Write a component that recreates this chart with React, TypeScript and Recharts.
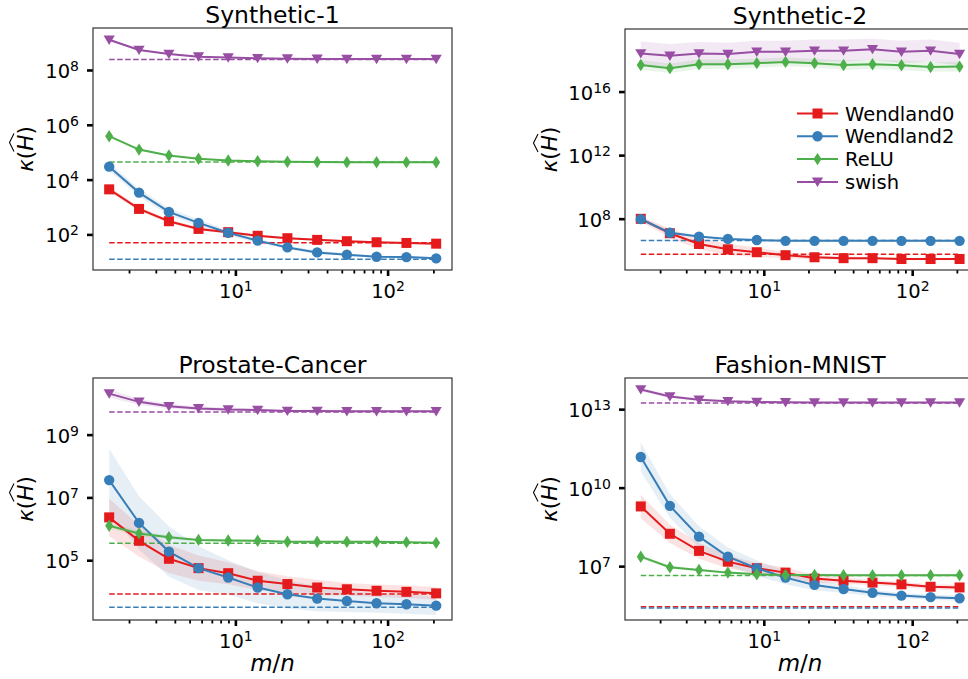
import React from "react";
import { ComposedChart, Line, Area, XAxis, YAxis } from "recharts";

const FONT = "'DejaVu Sans', sans-serif";

// m/n values shared by every panel
const ratios = [1.47, 2.31, 3.63, 5.68, 8.9, 13.9, 21.8, 34.2, 53.6, 84, 132, 207];
const xTicks = [2, 3, 4, 5, 6, 7, 8, 9, 10, 20, 30, 40, 50, 60, 70, 80, 90, 100, 200];
const xDomain = [1.151, 263];

// Synthetic-1
const syn1W0 = [4.6e3, 890, 316, 166, 126, 93, 76, 66, 59, 54, 51, 48];
const syn1W2 = [3.1e4, 3.5e3, 690, 275, 120, 62, 35, 23, 19, 16, 15.5, 14];
const syn1Relu = [4.0e5, 1.3e5, 7.9e4, 6.0e4, 5.2e4, 4.9e4, 4.7e4, 4.6e4, 4.5e4, 4.5e4, 4.5e4, 4.5e4];
const syn1Swish = [1.32e9, 5.6e8, 4.0e8, 3.2e8, 2.95e8, 2.8e8, 2.7e8, 2.65e8, 2.6e8, 2.6e8, 2.6e8, 2.6e8];
const syn1Base = { w0: 52, w2: 13, relu: 4.6e4, swish: 2.5e8 };
const syn1Spread = {
  w0: [0.1, 0.08, 0.07, 0.06, 0.05, 0.05, 0.04, 0.04, 0.04, 0.03, 0.03, 0.03],
  w2: [0.15, 0.14, 0.13, 0.12, 0.1, 0.08, 0.07, 0.06, 0.05, 0.04, 0.04, 0.03],
  relu: [0.05, 0.04, 0.03, 0.03, 0.03, 0.03, 0.02, 0.02, 0.02, 0.02, 0.02, 0.02],
  swish: [0.05, 0.04, 0.03, 0.03, 0.02, 0.02, 0.02, 0.02, 0.02, 0.02, 0.02, 0.02],
};

// Synthetic-2
const syn2W0 = [1.05e8, 1.3e7, 2.75e6, 1.26e6, 8.3e5, 5.4e5, 4.0e5, 3.5e5, 3.5e5, 3.1e5, 3.1e5, 3.1e5];
const syn2W2 = [1.0e8, 1.4e7, 8.0e6, 5.7e6, 4.9e6, 4.3e6, 4.3e6, 4.3e6, 4.3e6, 4.3e6, 4.3e6, 4.3e6];
const syn2Relu = [5.1e17, 3.2e17, 5.6e17, 5.6e17, 6.6e17, 7.9e17, 6.6e17, 5.1e17, 5.6e17, 4.9e17, 3.8e17, 4.0e17];
const syn2Swish = [2.7e18, 1.9e18, 2.7e18, 2.45e18, 3.4e18, 3.4e18, 4.0e18, 4.0e18, 5.0e18, 3.4e18, 4.0e18, 2.45e18];
const syn2Base = { w0: 6.2e5, w2: 4.5e6 };
const syn2Spread = {
  w0: [0.15, 0.3, 0.35, 0.35, 0.3, 0.2, 0.12, 0.1, 0.08, 0.08, 0.08, 0.08],
  w2: [0.15, 0.1, 0.06, 0.05, 0.04, 0.03, 0.03, 0.03, 0.03, 0.03, 0.03, 0.03],
  relu: [0.3, 0.3, 0.3, 0.3, 0.28, 0.28, 0.28, 0.3, 0.3, 0.3, 0.3, 0.3],
  swish: [0.75, 0.75, 0.72, 0.72, 0.7, 0.7, 0.7, 0.7, 0.65, 0.7, 0.7, 0.72],
};

// Prostate-Cancer
const prosW0 = [2.4e6, 4.3e5, 1.15e5, 5.8e4, 4.0e4, 2.3e4, 1.8e4, 1.4e4, 1.23e4, 1.1e4, 1.02e4, 9.1e3];
const prosW2 = [3.7e7, 1.6e6, 1.95e5, 5.8e4, 2.9e4, 1.4e4, 8.5e3, 6.2e3, 5.2e3, 4.4e3, 4.1e3, 3.7e3];
const prosRelu = [1.3e6, 7.4e5, 5.6e5, 4.6e5, 4.4e5, 4.3e5, 4.0e5, 4.0e5, 4.0e5, 4.0e5, 3.9e5, 3.7e5];
const prosSwish = [2.1e10, 1.15e10, 8.3e9, 7.1e9, 6.5e9, 6.3e9, 5.9e9, 5.9e9, 5.75e9, 5.75e9, 5.75e9, 5.75e9];
const prosBase = { w0: 8.7e3, w2: 3.3e3, relu: 3.6e5, swish: 5.5e9 };
const prosSpread = {
  w0: [0.6, 0.5, 0.45, 0.4, 0.35, 0.3, 0.25, 0.25, 0.2, 0.2, 0.2, 0.2],
  w2: [1.0, 0.85, 0.8, 0.7, 0.55, 0.5, 0.45, 0.4, 0.35, 0.3, 0.3, 0.3],
  relu: [0.1, 0.08, 0.06, 0.05, 0.04, 0.04, 0.03, 0.03, 0.03, 0.03, 0.03, 0.03],
  swish: [0.12, 0.1, 0.08, 0.07, 0.06, 0.05, 0.04, 0.04, 0.04, 0.04, 0.04, 0.04],
};

// Fashion-MNIST
const fashW0 = [2.0e9, 1.8e8, 4.0e7, 1.55e7, 8.7e6, 5.9e6, 3.5e6, 2.9e6, 2.45e6, 2.1e6, 1.7e6, 1.6e6];
const fashW2 = [1.55e11, 2.1e9, 1.4e8, 2.4e7, 8.7e6, 3.8e6, 2.0e6, 1.4e6, 1.0e6, 7.8e5, 6.8e5, 6.2e5];
const fashRelu = [2.4e7, 9.5e6, 7.4e6, 5.9e6, 5.1e6, 4.8e6, 4.8e6, 4.7e6, 4.7e6, 4.7e6, 4.7e6, 4.7e6];
const fashSwish = [5.9e13, 3.2e13, 2.4e13, 2.1e13, 1.95e13, 1.9e13, 1.86e13, 1.86e13, 1.86e13, 1.86e13, 1.86e13, 1.86e13];
const fashBase = { w0: 2.9e5, w2: 2.6e5, relu: 4.6e6, swish: 1.8e13 };
const fashSpread = {
  w0: [0.45, 0.35, 0.3, 0.25, 0.2, 0.2, 0.15, 0.12, 0.1, 0.1, 0.1, 0.1],
  w2: [0.55, 0.45, 0.4, 0.35, 0.3, 0.25, 0.2, 0.15, 0.12, 0.1, 0.1, 0.1],
  relu: [0.08, 0.06, 0.05, 0.04, 0.04, 0.03, 0.03, 0.03, 0.03, 0.03, 0.03, 0.03],
  swish: [0.08, 0.06, 0.05, 0.04, 0.03, 0.03, 0.03, 0.03, 0.03, 0.03, 0.03, 0.03],
};

const SERIES = [
  { key: "w0", name: "Wendland0", color: "#e41a1c", shape: "square" },
  { key: "w2", name: "Wendland2", color: "#377eb8", shape: "circle" },
  { key: "relu", name: "ReLU", color: "#4daf4a", shape: "diamond" },
  { key: "swish", name: "swish", color: "#984ea3", shape: "tri" },
];

const PANELS = [
  {
    title: "Synthetic-1", vals: { w0: syn1W0, w2: syn1W2, relu: syn1Relu, swish: syn1Swish },
    base: syn1Base, spread: syn1Spread, yTicks: [1e2, 1e4, 1e6, 1e8], yDomain: [5.25, 3.55e9],
    left: 93, top: 28, w: 359, h: 242, labelX: 33, xLabel: false,
  },
  {
    title: "Synthetic-2", vals: { w0: syn2W0, w2: syn2W2, relu: syn2Relu, swish: syn2Swish },
    base: syn2Base, spread: syn2Spread, yTicks: [1e8, 1e12, 1e16], yDomain: [6.31e4, 9.33e19],
    left: 625, top: 29, w: 350, h: 241, labelX: 557, xLabel: false,
  },
  {
    title: "Prostate-Cancer", vals: { w0: prosW0, w2: prosW2, relu: prosRelu, swish: prosSwish },
    base: prosBase, spread: prosSpread, yTicks: [1e5, 1e7, 1e9], yDomain: [1.29e3, 6.61e10],
    left: 93, top: 378, w: 359, h: 242, labelX: 33, xLabel: true,
  },
  {
    title: "Fashion-MNIST", vals: { w0: fashW0, w2: fashW2, relu: fashRelu, swish: fashSwish },
    base: fashBase, spread: fashSpread, yTicks: [1e7, 1e10, 1e13], yDomain: [9.12e4, 1.62e14],
    left: 625, top: 378, w: 350, h: 242, labelX: 557, xLabel: true,
  },
];

const expOf = (v: number) => Math.round(Math.log10(v));
const isDecade = (v: number) => Math.abs(Math.log10(v) - expOf(v)) < 1e-6;

function Marker({ shape, color, cx, cy }: any) {
  if (shape === "square") return <rect x={cx - 5} y={cy - 5} width={10} height={10} fill={color} />;
  if (shape === "circle") return <circle cx={cx} cy={cy} r={5.2} fill={color} />;
  if (shape === "diamond")
    return <path d={`M${cx},${cy - 6.2}L${cx + 4},${cy}L${cx},${cy + 6.2}L${cx - 4},${cy}Z`} fill={color} />;
  return <path d={`M${cx - 5.6},${cy - 4.3}L${cx + 5.6},${cy - 4.3}L${cx},${cy + 5.1}Z`} fill={color} />;
}

const makeDot = (shape: string, color: string) => (p: any) => {
  if (p.cx == null || p.cy == null) return <g key={p.index} />;
  return <g key={p.index}><Marker shape={shape} color={color} cx={p.cx} cy={p.cy} /></g>;
};

function TenPow({ x, y, exp, anchor }: any) {
  return (
    <text x={x} y={y} textAnchor={anchor} fontFamily={FONT} fontSize={19.5} fill="#000">
      <tspan>10</tspan>
      <tspan dy={-7} fontSize={14}>{exp}</tspan>
    </text>
  );
}

const XTick = (p: any) => {
  const { x, y, payload } = p;
  const v = payload.value;
  const major = isDecade(v);
  return (
    <g>
      <line x1={x} x2={x} y1={y} y2={y + (major ? 6 : 3.5)} stroke="#000" strokeWidth={major ? 2.6 : 1.8} />
      {major && <TenPow x={x} y={y + 28} exp={expOf(v)} anchor="middle" />}
    </g>
  );
};

const YTick = (p: any) => {
  const { x, y, payload } = p;
  return (
    <g>
      <line x1={x - 6} x2={x} y1={y} y2={y} stroke="#000" strokeWidth={2.6} />
      <TenPow x={x - 14} y={y + 7.5} exp={expOf(payload.value)} anchor="end" />
    </g>
  );
};

function Panel({ panel }: any) {
  const padL = 95, padT = 10, padR = 12, padB = 62;
  const width = panel.w + padL + padR;
  const height = panel.h + padT + padB;
  const rows = ratios.map((x, i) => {
    const row: any = { x };
    SERIES.forEach((s) => {
      const v = panel.vals[s.key][i];
      const sp = panel.spread[s.key][i];
      row[s.key] = v;
      row[s.key + "Band"] = [v / Math.pow(10, sp), v * Math.pow(10, sp)];
      if (panel.base[s.key] != null) row[s.key + "Base"] = panel.base[s.key];
    });
    return row;
  });
  return (
    <div style={{ position: "absolute", left: panel.left - padL, top: panel.top - padT, width, height }}>
      <ComposedChart width={width} height={height} data={rows} margin={{ top: padT, right: padR, bottom: 0, left: 0 }}>
        <XAxis
          dataKey="x" type="number" scale="log" domain={xDomain} allowDataOverflow ticks={xTicks}
          interval={0} height={padB} axisLine={false} tickLine={false} tickSize={0} tickMargin={0} tick={<XTick />}
        />
        <YAxis
          type="number" scale="log" domain={panel.yDomain} allowDataOverflow ticks={panel.yTicks}
          interval={0} width={padL} axisLine={false} tickLine={false} tickSize={0} tickMargin={0} tick={<YTick />}
        />
        {SERIES.map((s) => (
          <Area
            key={s.key + "Band"} dataKey={s.key + "Band"} type="linear" stroke="none"
            fill={s.color} fillOpacity={0.12} isAnimationActive={false} activeDot={false}
          />
        ))}
        {SERIES.filter((s) => panel.base[s.key] != null).map((s) => (
          <Line
            key={s.key + "Base"} dataKey={s.key + "Base"} type="linear" stroke={s.color} strokeWidth={1.5}
            strokeDasharray="5.5 2.5" dot={false} activeDot={false} isAnimationActive={false}
          />
        ))}
        {SERIES.map((s) => (
          <Line
            key={s.key} dataKey={s.key} name={s.name} type="linear" stroke={s.color} strokeWidth={2}
            dot={makeDot(s.shape, s.color)} activeDot={false} isAnimationActive={false}
          />
        ))}
      </ComposedChart>
    </div>
  );
}

function Decor() {
  return (
    <svg width={968} height={679} style={{ position: "absolute", left: 0, top: 0, pointerEvents: "none" }}>
      {PANELS.map((p) => {
        const cx = p.left + p.w / 2;
        const cy = p.top + p.h / 2;
        return (
          <g key={p.title}>
            <rect x={p.left} y={p.top} width={p.w} height={p.h} fill="none" stroke="#333" strokeWidth={1.2} />
            <text x={cx} y={p.top - 5} textAnchor="middle" fontFamily={FONT} fontSize={23.5} fill="#000">{p.title}</text>
            <g transform={`translate(${p.labelX},${cy}) rotate(-90)`}>
              <text x={0} y={0} textAnchor="middle" fontFamily={FONT} fontSize={21.5} fill="#000">
                <tspan fontStyle="italic">κ</tspan>
                <tspan>(</tspan>
                <tspan fontStyle="italic">H</tspan>
                <tspan>)</tspan>
              </text>
              <path d="M-2.5,-19 L6.5,-23.5 L15.5,-19" fill="none" stroke="#000" strokeWidth={1.1} />
            </g>
            {p.xLabel && (
              <text x={cx} y={671} textAnchor="middle" fontFamily={FONT} fontSize={23} fill="#000">
                <tspan fontStyle="italic">m</tspan>
                <tspan>/</tspan>
                <tspan fontStyle="italic">n</tspan>
              </text>
            )}
          </g>
        );
      })}
      {SERIES.map((s, i) => {
        const y = 113.5 + i * 22.8;
        return (
          <g key={s.key}>
            <line x1={797} x2={838} y1={y} y2={y} stroke={s.color} strokeWidth={2} />
            <Marker shape={s.shape} color={s.color} cx={817.5} cy={y} />
            <text x={845} y={y + 7} fontFamily={FONT} fontSize={19.5} fill="#000">{s.name}</text>
          </g>
        );
      })}
    </svg>
  );
}

export default function App() {
  return (
    <div style={{ position: "absolute", left: 0, top: 0, width: 968, height: 679, overflow: "hidden", background: "#fff" }}>
      {PANELS.map((p) => <Panel key={p.title} panel={p} />)}
      <Decor />
    </div>
  );
}
